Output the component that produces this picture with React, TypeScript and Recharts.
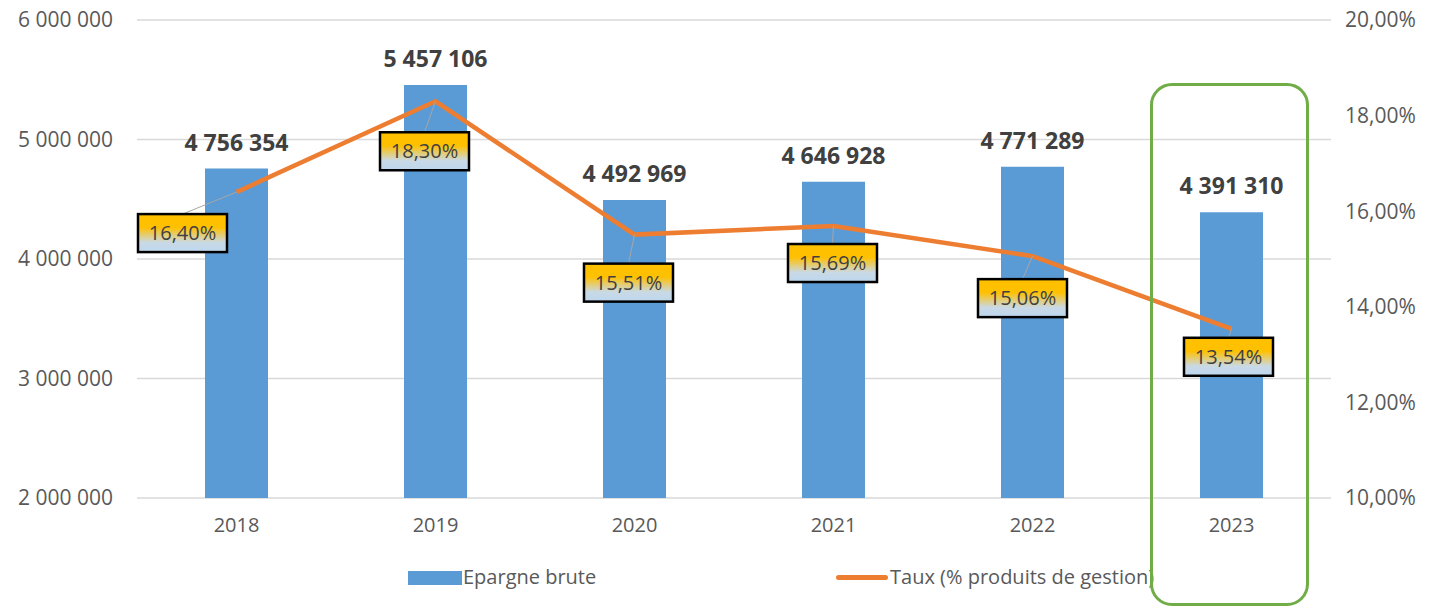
import React from "react";
import {
  Bar,
  CartesianGrid,
  ComposedChart,
  LabelList,
  Line,
  XAxis,
  YAxis,
} from "recharts";

const years = ["2018", "2019", "2020", "2021", "2022", "2023"];
const epargne = [4756354, 5457106, 4492969, 4646928, 4771289, 4391310];
const taux = [16.4, 18.3, 15.51, 15.69, 15.06, 13.54];
const leftTicks = [2000000, 3000000, 4000000, 5000000, 6000000];
const rightTicks = [10, 12, 14, 16, 18, 20];

// where Excel's labels were dragged to, relative to the point
const labelShift = [
  [-54, 41],
  [-11, 50],
  [-6, 48],
  [-1, 37],
  [-10, 42],
  [-3, 28],
];

const data = years.map((year, i) => ({
  year,
  epargne: epargne[i],
  taux: taux[i],
}));

const FONT = "'Open Sans', sans-serif";
const GREY = "#595959";

const spaced = (v: number) =>
  String(Math.round(v)).replace(/\B(?=(\d{3})+(?!\d))/g, " ");
const pct = (v: number) => v.toFixed(2).replace(".", ",") + "%";

const BarValue = (props: any) => {
  const { x, y, width, value } = props;
  return (
    <text
      x={x + width / 2}
      y={y - 18}
      textAnchor="middle"
      fontFamily={FONT}
      fontSize={23}
      fontWeight={700}
      fill="#404040"
    >
      {spaced(value)}
    </text>
  );
};

const PctLabel = (props: any) => {
  const { x, y, index, value } = props;
  const [dx, dy] = labelShift[index];
  const cx = x + dx;
  const cy = y + dy;
  const w = 89;
  const h = 38;
  return (
    <g>
      <line x1={cx} y1={cy - h / 2} x2={x} y2={y} stroke="#A6A6A6" strokeWidth={1} />
      <rect
        x={cx - w / 2}
        y={cy - h / 2}
        width={w}
        height={h}
        fill="url(#boxFill)"
        stroke="#000"
        strokeWidth={2.5}
      />
      <text
        x={cx}
        y={cy + 7}
        textAnchor="middle"
        fontFamily={FONT}
        fontSize={20}
        fill="#404040"
      >
        {pct(value)}
      </text>
    </g>
  );
};

export default function App() {
  return (
    <div
      style={{
        position: "absolute",
        left: 0,
        top: 0,
        width: 1431,
        height: 606,
        overflow: "hidden",
        background: "#fff",
        fontFamily: FONT,
      }}
    >
      <ComposedChart
        width={1431}
        height={606}
        data={data}
        margin={{ top: 20, right: 0, bottom: 68, left: 0 }}
        barCategoryGap={68}
      >
        <defs>
          <linearGradient id="boxFill" x1="0" y1="0" x2="0" y2="1">
            <stop offset="0" stopColor="#FFC000" />
            <stop offset="0.35" stopColor="#FFC000" />
            <stop offset="0.75" stopColor="#C9D9E6" />
            <stop offset="1" stopColor="#BDD7EE" />
          </linearGradient>
        </defs>
        <CartesianGrid yAxisId="left" vertical={false} stroke="#D9D9D9" strokeWidth={1.5} />
        <XAxis
          dataKey="year"
          axisLine={false}
          tickLine={false}
          height={40}
          tickMargin={14}
          tick={{ fill: GREY, fontSize: 20, fontFamily: FONT }}
        />
        <YAxis
          yAxisId="left"
          width={137}
          domain={[2000000, 6000000]}
          ticks={leftTicks}
          tickFormatter={spaced}
          axisLine={false}
          tickLine={false}
          tickMargin={18}
          tick={{ fill: GREY, fontSize: 21, fontFamily: FONT }}
        />
        <YAxis
          yAxisId="right"
          orientation="right"
          width={100}
          domain={[10, 20]}
          ticks={rightTicks}
          tickFormatter={pct}
          axisLine={false}
          tickLine={false}
          tickMargin={8}
          tick={{ fill: GREY, fontSize: 21, fontFamily: FONT, textAnchor: "start" }}
        />
        <Bar
          yAxisId="left"
          dataKey="epargne"
          fill="#5B9BD5"
          isAnimationActive={false}
        >
          <LabelList dataKey="epargne" content={BarValue} />
        </Bar>
        <Line
          yAxisId="right"
          dataKey="taux"
          stroke="#ED7D31"
          strokeWidth={4.5}
          dot={false}
          activeDot={false}
          isAnimationActive={false}
        >
          <LabelList dataKey="taux" content={PctLabel} />
        </Line>
      </ComposedChart>

      {/* legend */}
      <div style={{ position: "absolute", left: 408, top: 571, width: 54, height: 14, background: "#5B9BD5" }} />
      <div style={{ position: "absolute", left: 463, top: 562, fontSize: 20, color: GREY, lineHeight: "30px" }}>
        Epargne brute
      </div>
      <div style={{ position: "absolute", left: 836, top: 575, width: 52, height: 5, borderRadius: 3, background: "#ED7D31" }} />
      <div style={{ position: "absolute", left: 890, top: 562, fontSize: 20, color: GREY, lineHeight: "30px" }}>
        Taux (% produits de gestion)
      </div>

      {/* highlight around 2023 */}
      <div
        style={{
          position: "absolute",
          left: 1150,
          top: 83,
          width: 153,
          height: 517,
          border: "3px solid #70AD47",
          borderRadius: 22,
        }}
      />
    </div>
  );
}
